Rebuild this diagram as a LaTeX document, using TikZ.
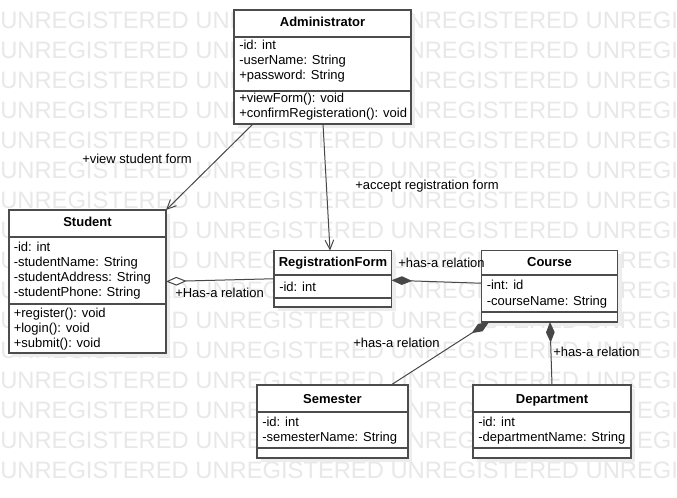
\documentclass[tikz,border=0pt]{standalone}
\usepackage{fontspec}
\setmainfont{Liberation Sans}
\usetikzlibrary{arrows.meta,calc}
\tikzset{
  x=0.75pt, y=-0.75pt,
  classbox/.style={draw=black!70, line width=1.1pt, fill=white, inner sep=0pt, outer sep=0pt, anchor=north west},
  sepline/.style={draw=black!70, line width=1.1pt},
  boxshadow/.style={fill=black!7},
  ctitle/.style={font=\bfseries\fontsize{9.75}{11}\selectfont, inner sep=0pt, anchor=base},
  cattr/.style={font=\fontsize{9.75}{11}\selectfont, inner sep=0pt, anchor=base west},
  lbl/.style={font=\fontsize{9.75}{11}\selectfont, inner sep=0pt, anchor=base west},
  wmark/.style={font=\fontsize{17.8}{20}\selectfont, text=black!9, inner sep=0pt, anchor=base west},
  conn/.style={draw=black!72, line width=0.75pt},
  openarrow/.style={-{Straight Barb[length=7pt,width=6.5pt]}},
  aggr/.style={{Diamond[open,fill=white,length=15.5pt,width=6.5pt]}-},
  compo/.style={{Diamond[length=15.5pt,width=6.5pt]}-},
}
% name, left, top, right, namesep, attrsep, bottom
\newcommand\umlclass[7]{%
  \fill[boxshadow] ({#2+4},{#3+4}) rectangle ({#4+4},{#7+4});
  \node[classbox, minimum width={(#4-#2)*0.75pt}, minimum height={(#7-#3)*0.75pt}] (#1) at (#2,#3) {};
  \draw[sepline] (#2,#5) -- (#4,#5);
  \draw[sepline] (#2,#6) -- (#4,#6);
}
\begin{document}
\begin{tikzpicture}
\useasboundingbox (0,0) rectangle (677,498);
\fill[white] (0,0) rectangle (677,498);
% watermark
\begin{scope}
  \clip (0,0) rectangle (677,498);
  \foreach \k in {0,...,15}{
    \node[wmark] (wm\k) at (0,{28.5+30*\k}) {UNREGISTERED UNREGISTERED UNREGISTERED UNREGISTERED};
  }
\end{scope}

% classes
\umlclass{admin}{234}{10}{411}{37}{91}{124}
\umlclass{student}{9}{210}{166}{237}{304}{353}
\umlclass{regform}{274}{250.5}{391.5}{275}{298}{307}
\umlclass{course}{481.5}{250.5}{617.5}{275}{312}{322}
\umlclass{semester}{257}{385}{408}{412}{448}{458}
\umlclass{department}{473}{385}{631}{412}{448}{458}

% Administrator
\node[ctitle] (adminT) at (322.5,26.5) {Administrator};
\node[cattr] (adminA1) at (239,50) {-id: int};
\node[cattr] (adminA2) at (239,65) {-userName: String};
\node[cattr] (adminA3) at (239,80) {+password: String};
\node[cattr] (adminM1) at (239,103) {+viewForm(): void};
\node[cattr] (adminM2) at (239,118) {+confirmRegisteration(): void};

% Student
\node[ctitle] (studentT) at (87.5,226.5) {Student};
\node[cattr] (studentA1) at (13.5,251.5) {-id: int};
\node[cattr] (studentA2) at (13.5,266.5) {-studentName: String};
\node[cattr] (studentA3) at (13.5,281.5) {-studentAddress: String};
\node[cattr] (studentA4) at (13.5,296.5) {-studentPhone: String};
\node[cattr] (studentM1) at (13.5,318) {+register(): void};
\node[cattr] (studentM2) at (13.5,333) {+login(): void};
\node[cattr] (studentM3) at (13.5,348) {+submit(): void};

% RegistrationForm
\node[ctitle] (regformT) at (333,267) {RegistrationForm};
\node[cattr] (regformA1) at (279,291.5) {-id: int};

% Course
\node[ctitle] (courseT) at (549.5,267) {Course};
\node[cattr] (courseA1) at (486.5,290) {-int: id};
\node[cattr] (courseA2) at (486.5,305.5) {-courseName: String};

% Semester
\node[ctitle] (semesterT) at (332.5,403) {Semester};
\node[cattr] (semesterA1) at (262,426.5) {-id: int};
\node[cattr] (semesterA2) at (262,441.5) {-semesterName: String};

% Department
\node[ctitle] (departmentT) at (552,403) {Department};
\node[cattr] (departmentA1) at (478,426.5) {-id: int};
\node[cattr] (departmentA2) at (478,441.5) {-departmentName: String};

% connectors
\draw[conn, openarrow] ($(admin.south west)+(19,0)$) -- (student.north east);
\draw[conn, openarrow] ($(admin.south west)+(89,0)$) -- ($(regform.north west)+(56,0)$);
\draw[conn, aggr] (student.east) -- (regform.west);
\draw[conn, compo] ($(regform.east)+(0,1.5)$) -- ($(course.west)+(0,-3)$);
\draw[conn, compo] ($(course.south west)+(7.5,0)$) -- ($(semester.north west)+(134,0)$);
\draw[conn, compo] ($(course.south west)+(68.5,0)$) -- (department.north);

% labels
\node[lbl] (l1) at (82,163.5) {+view student form};
\node[lbl] (l2) at (355,189.5) {+accept registration form};
\node[lbl] (l3) at (175,298) {+Has-a relation};
\node[lbl] (l4) at (398,267.5) {+has-a relation};
\node[lbl] (l5) at (353,347.5) {+has-a relation};
\node[lbl] (l6) at (553,356.5) {+has-a relation};
\end{tikzpicture}
\end{document}
